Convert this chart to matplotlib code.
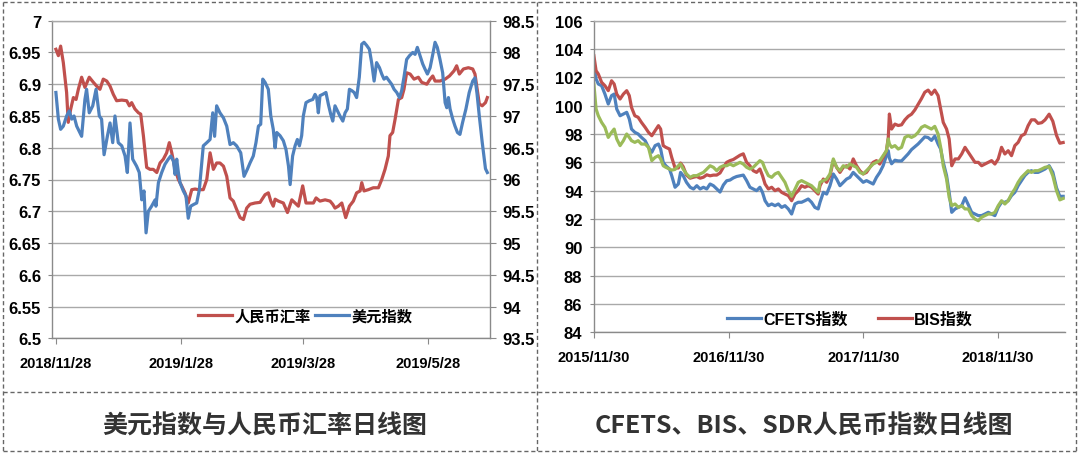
import numpy as np
import pandas as pd
import matplotlib
matplotlib.use("Agg")
import matplotlib.pyplot as plt
from matplotlib.lines import Line2D
from matplotlib.font_manager import FontProperties

plt.rcParams['font.family'] = ['Liberation Sans', 'Noto Sans CJK SC', 'DejaVu Sans']

# ---------------- Left panel data: 人民币汇率 (left axis) & 美元指数 (right axis)
LEFT_START = pd.Timestamp('2018-11-28')
cny_days = [0.1, 1.3, 2.4, 3.7, 5.3, 6.1, 7.3, 8.6, 9.9, 11.0, 12.6, 14.2, 16.3, 18.3, 19.9, 21.5,
            23.1, 24.8, 26.4, 28.0, 29.6, 32.1, 34.5, 35.8, 36.9, 38.5, 40.2, 41.3, 42.6, 44.2,
            45.8, 47.4, 49.1, 50.7, 52.3, 53.9, 55.2, 56.4, 58.0, 59.6, 61.2, 62.8, 64.4, 66.1,
            67.7, 69.3, 71.7, 73.4, 75.0, 76.6, 78.2, 79.8, 81.5, 83.1, 84.7, 86.3, 87.9, 89.6,
            91.2, 92.8, 94.4, 96.8, 99.3,
            101.7, 103.3, 104.5, 105.7, 106.6, 108.2, 110.6, 112.6, 114.7, 116.3, 117.9, 120.0,
            121.6, 123.6, 125.2, 126.5, 128.4, 130.9, 133.3, 134.6, 135.7, 137.3, 139.0, 140.9,
            142.7, 144.6, 146.2, 147.9, 148.7, 149.8, 151.9, 154.3, 156.8, 158.4, 160.0, 161.6,
            162.4, 163.7, 164.9, 166.5, 168.1, 169.2, 170.5, 172.2, 174.1, 176.2, 177.8, 180.3,
            181.9, 183.2, 184.3, 186.7, 189.2, 191.3, 193.5, 194.8, 196.1, 198.1, 200.5, 202.6,
            203.7, 205.8, 207.2, 208.8, 209.7]
cny_vals = [6.955, 6.945, 6.960, 6.934, 6.887, 6.840, 6.861, 6.879, 6.876, 6.892, 6.911, 6.895,
            6.911, 6.903, 6.897, 6.892, 6.908, 6.905, 6.897, 6.884, 6.874, 6.875, 6.874, 6.866,
            6.871, 6.861, 6.855, 6.853, 6.819, 6.769, 6.766, 6.766, 6.761, 6.776, 6.782, 6.792,
            6.808, 6.792, 6.766, 6.750, 6.740, 6.729, 6.713, 6.734, 6.735, 6.734, 6.734, 6.750,
            6.792, 6.766, 6.776, 6.776, 6.771, 6.755, 6.721, 6.716, 6.703, 6.690, 6.687, 6.705,
            6.711, 6.713, 6.714,
            6.726, 6.729, 6.716, 6.708, 6.719, 6.716, 6.713, 6.698, 6.718, 6.713, 6.708, 6.740,
            6.713, 6.713, 6.713, 6.721, 6.716, 6.718, 6.716, 6.711, 6.705, 6.708, 6.713, 6.690,
            6.708, 6.716, 6.729, 6.732, 6.745, 6.732, 6.734, 6.737, 6.737, 6.750, 6.766, 6.787,
            6.819, 6.824, 6.845, 6.876, 6.879, 6.892, 6.918, 6.916, 6.908, 6.911, 6.903, 6.900,
            6.908, 6.913, 6.905, 6.905, 6.908, 6.913, 6.921, 6.929, 6.916, 6.924, 6.926, 6.924,
            6.916, 6.869, 6.866, 6.871, 6.879]

usd_days = [0.1, 1.3, 2.4, 3.7, 5.3, 6.6, 7.8, 8.9, 10.2, 12.6, 14.2, 15.0, 16.3, 18.0, 19.6,
            21.2, 22.3, 23.5, 25.1, 26.4, 27.7, 28.8, 30.4, 32.1, 33.7, 34.8, 36.1, 37.4, 39.3,
            40.6, 41.8, 42.9, 43.9, 45.0, 46.6, 48.3, 48.7, 49.9, 51.5, 53.1, 54.7, 55.9, 57.2,
            58.0, 58.8, 59.6, 60.4, 62.0, 63.3, 64.4, 65.6, 67.2, 68.5, 69.8, 71.7, 73.4, 75.0,
            76.3, 77.2, 78.2, 79.8, 81.5, 83.1, 84.7, 86.3, 87.9, 89.9, 91.5, 93.1, 94.4,
            96.0, 97.3, 98.5, 99.6, 100.6, 101.7, 103.3, 104.5, 105.7, 106.6, 107.4, 109.0, 110.6,
            111.9, 113.1, 113.9, 115.1, 116.3, 117.4, 118.4, 119.5, 120.3, 121.6, 123.2, 124.9,
            126.0, 126.8, 127.6, 128.4, 129.7, 131.3, 132.5, 133.6, 134.6, 135.7, 136.9, 138.1,
            139.5, 140.6, 141.7, 142.7, 143.8, 145.0, 146.2, 147.5, 148.7, 149.8, 151.1, 152.4,
            153.5, 154.7, 155.9, 157.3, 158.4, 159.5, 160.7, 162.1, 163.2, 164.4, 165.7, 167.0,
            168.1, 169.2, 170.5, 171.9, 173.5, 174.6, 175.7, 177.0, 178.3, 179.4, 180.6, 181.9,
            183.2, 184.3, 185.4, 186.7, 188.0, 189.2, 190.0, 190.8, 191.6, 192.9, 194.0, 195.2,
            196.4, 197.7, 199.3, 200.9, 202.6, 203.7, 204.7, 205.8, 207.2, 208.8, 209.7]
usd_vals = [97.37, 96.95, 96.79, 96.84, 97.00, 97.08, 96.95, 97.00, 96.84, 96.68, 97.26, 97.42,
            97.05, 97.16, 97.42, 97.00, 96.95, 96.39, 96.68, 96.89, 96.58, 97.00, 96.58, 96.53,
            96.37, 96.11, 96.89, 96.32, 96.21, 96.11, 95.68, 95.82, 95.16, 95.50, 95.58, 95.68,
            95.58, 95.95, 96.11, 96.24, 96.32, 96.37, 96.29, 96.08, 96.32, 96.11, 95.95, 95.82,
            95.74, 95.39, 95.58, 95.61, 95.63, 95.84, 96.53, 96.58, 96.63, 97.05, 96.68, 97.16,
            97.05, 96.97, 96.84, 96.55, 96.58, 96.53, 96.42, 96.05, 96.16, 96.26,
            96.37, 96.58, 96.84, 96.87, 97.58, 97.53, 97.42, 97.00, 96.79, 96.50, 96.74, 96.69,
            96.61, 96.47, 96.21, 95.92, 96.37, 96.53, 96.63, 96.53, 96.69, 97.00, 97.21, 97.24,
            97.26, 97.34, 97.29, 97.05, 97.32, 97.34, 97.37, 97.18, 97.03, 96.92, 97.16, 97.08,
            97.00, 96.92, 97.05, 97.11, 97.42, 97.40, 97.37, 97.29, 97.61, 98.13, 98.16, 98.11,
            98.05, 97.84, 97.55, 97.84, 97.76, 97.66, 97.58, 97.61, 97.55, 97.50, 97.42, 97.37,
            97.29, 97.40, 97.61, 97.89, 97.95, 98.00, 97.97, 98.08, 97.95, 97.82, 97.74, 97.66,
            97.76, 97.97, 98.16, 98.08, 97.89, 97.68, 97.21, 97.13, 97.29, 97.11, 96.95, 96.84,
            96.74, 96.71, 96.90, 97.11, 97.37, 97.55, 97.60, 97.35, 97.00, 96.59, 96.17, 96.11]

left_tick_dates = ['2018-11-28', '2019-01-28', '2019-03-28', '2019-05-28']
left_tick_labels = ['2018/11/28', '2019/1/28', '2019/3/28', '2019/5/28']
left_series_names = ['人民币汇率', '美元指数']

# ---------------- Right panel data: CFETS / BIS / SDR
RIGHT_START = pd.Timestamp('2015-11-30')
idx_days = [1, 7, 13, 22, 31, 40, 49, 56, 63, 72, 81, 90, 97, 103, 112, 121, 130, 140, 149, 158,
            167, 176, 182, 189, 196, 206, 212, 221, 230, 236, 243, 252, 262, 271, 280, 289, 298,
            307, 316, 325, 334, 343, 352, 361, 370, 379, 388, 397, 406, 415, 424, 433, 442, 451,
            458, 465, 474, 483, 492, 501, 510, 519, 528, 537, 546, 555, 564, 573, 582, 591, 600,
            609,
            614, 623, 632, 641, 650, 659, 668, 677, 686, 695, 704, 713, 722, 731, 740, 749, 758,
            767, 776, 785, 794, 799, 802, 808, 817, 826, 835, 844, 853, 862, 871, 880, 889, 898,
            907, 916, 925, 934, 941, 948, 957, 964, 971, 980, 989, 998, 1007, 1016, 1025, 1034,
            1043, 1052, 1061, 1070, 1079, 1088, 1097, 1106, 1115, 1124, 1133, 1142, 1151, 1160,
            1169, 1178, 1187, 1196, 1205, 1215, 1224, 1235, 1245, 1255, 1264, 1273]
bis_vals = [103.53, 102.47, 102.24, 101.65, 101.41, 101.06, 101.76, 101.53, 100.82, 100.47,
            100.82, 101.06, 100.71, 99.88, 99.29, 99.18, 98.82, 98.47, 98.12, 97.88,
            98.24, 98.59, 98.35, 97.18, 97.06, 96.94, 96.35, 95.60, 95.60, 95.95,
            95.70, 95.10, 94.88, 94.95, 95.00, 94.88, 94.95, 95.12, 95.05, 95.10,
            95.10, 95.25, 95.65, 96.00, 96.12, 96.20, 96.35, 96.50, 96.60, 96.00,
            95.76, 95.41, 95.29, 95.53, 95.06, 94.47, 94.12, 94.24, 94.00, 94.12,
            93.88, 93.76, 93.65, 93.29, 93.76, 94.00, 94.35, 94.24, 94.35, 94.24,
            94.00, 93.76,
            94.35, 94.82, 94.59, 95.06, 96.12, 95.65, 95.29, 95.65, 95.76, 95.53,
            96.24, 95.76, 95.41, 95.18, 95.29, 95.65, 96.00, 96.12, 95.88, 96.35,
            96.82, 97.76, 99.41, 98.35, 98.70, 98.60, 98.65, 99.00, 99.25, 99.40,
            99.70, 100.10, 100.50, 100.95, 101.10, 100.80, 101.10, 100.71, 99.76, 98.82,
            98.35, 97.65, 95.76, 96.24, 96.24, 96.59, 97.06, 96.71, 96.35, 96.00,
            96.00, 95.76, 95.88, 96.00, 96.12, 95.88, 96.24, 97.06, 96.59, 96.82,
            96.47, 97.18, 97.41, 97.88, 98.00, 98.59, 99.00, 99.00, 98.75, 98.80,
            99.00, 99.40, 98.90, 97.90, 97.35, 97.40]
cfets_vals = [102.82, 101.88, 101.53, 101.41, 100.82, 100.12, 100.71, 100.82, 99.76, 99.29,
              99.41, 99.53, 99.06, 98.35, 98.12, 98.00, 97.76, 97.53, 97.06, 96.71,
              97.18, 97.29, 96.94, 96.00, 95.76, 95.53, 95.06, 94.24, 94.47, 95.29,
              95.06, 94.59, 94.24, 94.12, 94.35, 94.12, 94.24, 94.12, 94.47, 94.35,
              94.12, 93.90, 94.40, 94.70, 94.75, 94.90, 95.00, 95.05, 95.10, 94.71,
              94.24, 94.12, 94.00, 94.24, 93.88, 93.29, 92.94, 93.06, 92.94, 93.06,
              92.82, 92.94, 92.71, 92.35, 93.06, 93.18, 93.18, 93.29, 93.41, 93.18,
              92.82, 92.71,
              93.18, 93.88, 93.76, 94.35, 95.18, 94.82, 94.35, 94.59, 94.82, 94.94,
              95.29, 95.06, 94.82, 94.59, 94.71, 94.59, 94.47, 94.94, 95.29, 95.76,
              96.47, 96.82, 96.30, 95.90, 96.15, 96.10, 96.10, 96.35, 96.60, 96.90,
              97.10, 97.30, 97.55, 97.80, 97.75, 97.55, 97.85, 97.29, 96.94, 96.00,
              95.06, 93.88, 92.47, 92.71, 92.82, 92.94, 93.50, 93.00, 92.47, 92.35,
              92.24, 92.24, 92.35, 92.47, 92.35, 92.24, 92.82, 93.18, 93.18, 93.29,
              93.65, 93.88, 94.35, 94.71, 95.06, 95.29, 95.41, 95.29, 95.29, 95.41,
              95.53, 95.76, 95.30, 94.20, 93.60, 93.60]
sdr_vals = [101.53, 99.76, 99.29, 98.82, 98.47, 97.76, 98.12, 98.35, 97.65, 97.18,
            97.53, 98.00, 97.76, 97.53, 97.41, 97.53, 97.29, 97.29, 97.06, 96.12,
            96.35, 96.47, 96.24, 95.76, 95.65, 95.53, 95.45, 95.50, 95.76, 95.88,
            95.53, 95.18, 94.94, 95.06, 95.06, 95.18, 95.29, 95.53, 95.76, 95.65,
            95.41, 95.65, 95.76, 95.76, 95.88, 95.76, 95.88, 96.00, 95.88, 95.65,
            95.53, 95.65, 95.88, 96.12, 96.00, 95.53, 95.06, 94.94, 95.18, 95.29,
            94.94, 94.59, 94.00, 93.60, 94.10, 94.59, 94.71, 94.59, 94.47, 94.35,
            94.12, 93.88,
            94.59, 94.71, 94.82, 95.18, 96.24, 95.65, 95.41, 95.76, 95.65, 95.88,
            95.76, 95.65, 95.29, 95.18, 95.41, 95.65, 95.88, 96.00, 96.12, 96.47,
            96.82, 97.65, 97.30, 97.06, 97.18, 96.94, 97.06, 97.76, 97.88, 97.76,
            97.88, 98.12, 98.47, 98.59, 98.47, 98.35, 98.54, 98.00, 97.06, 95.76,
            94.82, 93.53, 92.94, 93.06, 92.82, 92.94, 92.71, 92.71, 92.24, 92.00,
            91.88, 92.12, 92.24, 92.35, 92.35, 92.47, 92.94, 93.29, 93.06, 93.29,
            93.76, 94.12, 94.59, 94.94, 95.18, 95.41, 95.29, 95.41, 95.41, 95.53,
            95.65, 95.70, 95.05, 94.00, 93.35, 93.45]

right_tick_dates = ['2015-11-30', '2016-11-30', '2017-11-30', '2018-11-30']
right_tick_labels = ['2015/11/30', '2016/11/30', '2017/11/30', '2018/11/30']
right_series_names = ['CFETS指数', 'BIS指数', 'SDR指数']

titles = ['美元指数与人民币汇率日线图', 'CFETS、BIS、SDR人民币指数日线图']

# ---------------- styles
RED = '#C0504D'
BLUE = '#4F81BD'
GREEN = '#9BBB59'
GRID = '#a9a9a9'
SPINE = '#8a8a8a'
LW = 2.3


def to_dates(start, days):
    return start + pd.to_timedelta(np.asarray(days, dtype=float), unit='D')


fig = plt.figure(figsize=(10.8, 4.56), dpi=100)
fig.patch.set_facecolor('white')

tick_font = dict(fontsize=12, fontweight='bold')
date_font = dict(fontsize=10.5, fontweight='bold')

# ================= left panel
ax1 = fig.add_axes([52.3 / 1080, 1 - 339.3 / 456, (490 - 52.3) / 1080, (339.3 - 21.7) / 456])
ax2 = ax1.twinx()
ax1.set_zorder(1)
ax2.set_zorder(2)
ax2.patch.set_visible(False)

l_red, = ax1.plot(to_dates(LEFT_START, cny_days), cny_vals, color=RED, lw=LW, solid_joinstyle='round')
l_blue, = ax2.plot(to_dates(LEFT_START, usd_days), usd_vals, color=BLUE, lw=LW, solid_joinstyle='round')

ax1.set_xlim(LEFT_START - pd.Timedelta(days=1.65), LEFT_START + pd.Timedelta(days=211))
ax1.set_ylim(6.5, 7.0)
ax2.set_ylim(93.5, 98.5)
yt1 = np.round(np.arange(6.5, 7.0001, 0.05), 2)
ax1.set_yticks(yt1)
ax1.set_yticklabels([f'{v:g}' for v in yt1], **tick_font)
yt2 = np.round(np.arange(93.5, 98.5001, 0.5), 1)
ax2.set_yticks(yt2)
ax2.set_yticklabels([f'{v:g}' for v in yt2], **tick_font)
ax1.set_xticks(pd.to_datetime(left_tick_dates))
ax1.set_xticklabels(left_tick_labels, **date_font)
ax1.grid(axis='y', color=GRID, lw=1.0)
ax1.grid(axis='x', visible=False)
ax1.set_axisbelow(True)
for ax in (ax1, ax2):
    for s in ax.spines.values():
        s.set_color(SPINE)
        s.set_linewidth(1.0)
ax1.spines['top'].set_color(GRID)
ax1.spines['right'].set_visible(False)
ax2.spines['left'].set_visible(False)
ax2.spines['top'].set_visible(False)
ax2.spines['bottom'].set_visible(False)
ax1.tick_params(axis='y', length=3, color=SPINE, pad=5)
ax1.tick_params(axis='x', length=4, color=SPINE, pad=9)
ax2.tick_params(axis='y', length=4, color=SPINE, pad=5)

leg_font = FontProperties(family=['Noto Sans CJK SC'], size=11, weight='bold')
ax2.legend([l_red, l_blue], left_series_names, loc='center', bbox_to_anchor=(0.578, 0.071),
           ncol=2, frameon=False, prop=leg_font, handlelength=2.2, handletextpad=0.15,
           columnspacing=0.3, borderaxespad=0)

# ================= right panel
ax3 = fig.add_axes([593.5 / 1080, 1 - 333.3 / 456, (1065 - 593.5) / 1080, (333.3 - 21.7) / 456])
xr = to_dates(RIGHT_START, idx_days)
r_blue, = ax3.plot(xr, cfets_vals, color=BLUE, lw=LW, solid_joinstyle='round')
r_red, = ax3.plot(xr, bis_vals, color=RED, lw=LW, solid_joinstyle='round')
r_green, = ax3.plot(xr, sdr_vals, color=GREEN, lw=LW, solid_joinstyle='round')
ax3.set_xlim(RIGHT_START, RIGHT_START + pd.Timedelta(days=1278))
ax3.set_ylim(84, 106)
yt3 = np.arange(84, 106.1, 2)
ax3.set_yticks(yt3)
ax3.set_yticklabels([f'{v:g}' for v in yt3], **tick_font)
ax3.set_xticks(pd.to_datetime(right_tick_dates))
ax3.set_xticklabels(right_tick_labels, **date_font)
ax3.grid(axis='y', color=GRID, lw=1.0)
ax3.set_axisbelow(True)
for s in ax3.spines.values():
    s.set_color(SPINE)
    s.set_linewidth(1.0)
ax3.spines['right'].set_visible(False)
ax3.spines['top'].set_color(GRID)
ax3.tick_params(axis='y', length=3, color=SPINE, pad=5)
ax3.tick_params(axis='x', length=4, color=SPINE, pad=9)

leg_font2 = FontProperties(family=['Liberation Sans', 'Noto Sans CJK SC'], size=11.5, weight='bold')
ax3.legend([r_blue, r_red], right_series_names[:2], loc='center', bbox_to_anchor=(0.544, 0.043),
           ncol=2, frameon=False, prop=leg_font2, handlelength=2.1, handletextpad=0.15,
           columnspacing=1.9, borderaxespad=0)

# ================= titles
for xc, t in zip([265 / 1080, 804 / 1080], titles):
    fig.text(xc, 1 - 427 / 456, t, ha='center', va='center', fontsize=18, fontweight=900,
             color='#333333', family=['Noto Sans CJK SC', 'DejaVu Sans'])

# ================= dashed frame
def fline(x0, y0, x1, y1):
    fig.add_artist(Line2D([x0 / 1080, x1 / 1080], [1 - y0 / 456, 1 - y1 / 456],
                          transform=fig.transFigure, color='#666666', lw=1.0,
                          linestyle=(0, (3, 2))))

fline(3, 3, 1076, 3)
fline(3, 452, 1076, 452)
fline(3, 3, 3, 452)
fline(1076, 3, 1076, 452)
fline(537, 3, 537, 452)
fline(3, 393, 1076, 393)

fig.savefig('out.png', dpi=100, facecolor='white')
